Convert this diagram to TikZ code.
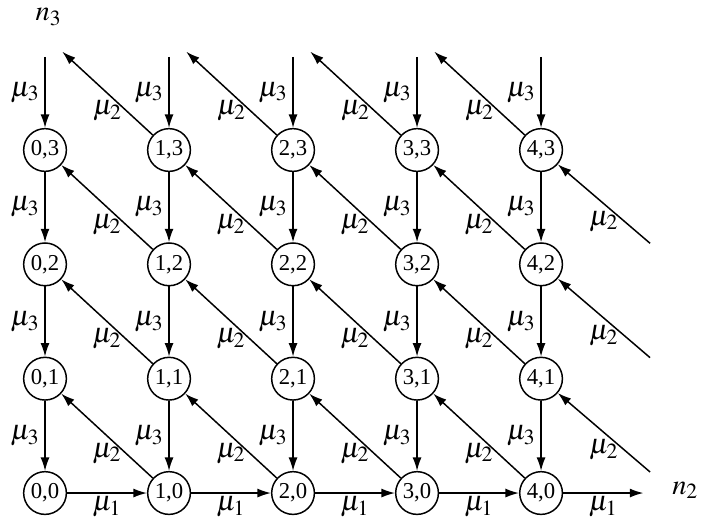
\documentclass[tikz,border=0pt]{standalone}
\usepackage{mathptmx}
\usepackage{fontspec}
\setmainfont{Liberation Serif}
\usetikzlibrary{arrows.meta}

\begin{document}
\begin{tikzpicture}[x = 2.206cm, y = 2.034cm, line width = 0.75pt,
  > = {Latex[length = 2.4mm, width = 1.6mm]},
  state/.style = {draw, circle, minimum size = 0.76cm, inner sep = 0pt, font = \fontsize{11.5}{13}\selectfont},
  rate/.style = {font = \Large}]
\useasboundingbox (-0.363,-0.245) rectangle (5.322,4.312);
% states
\node[state] (s00) at (0,0) {0,0};
\node[state] (s10) at (1,0) {1,0};
\node[state] (s20) at (2,0) {2,0};
\node[state] (s30) at (3,0) {3,0};
\node[state] (s40) at (4,0) {4,0};
\node[state] (s01) at (0,1) {0,1};
\node[state] (s11) at (1,1) {1,1};
\node[state] (s21) at (2,1) {2,1};
\node[state] (s31) at (3,1) {3,1};
\node[state] (s41) at (4,1) {4,1};
\node[state] (s02) at (0,2) {0,2};
\node[state] (s12) at (1,2) {1,2};
\node[state] (s22) at (2,2) {2,2};
\node[state] (s32) at (3,2) {3,2};
\node[state] (s42) at (4,2) {4,2};
\node[state] (s03) at (0,3) {0,3};
\node[state] (s13) at (1,3) {1,3};
\node[state] (s23) at (2,3) {2,3};
\node[state] (s33) at (3,3) {3,3};
\node[state] (s43) at (4,3) {4,3};
% axes
\node[rate] (n3) at (0.03,4.164) {$n_3$};
\node[rate] (n2) at (5.163,0.025) {$n_2$};
% free ends
\coordinate (t0) at (0,3.815);
\coordinate (t1) at (1,3.815);
\coordinate (t2) at (2,3.815);
\coordinate (t3) at (3,3.815);
\coordinate (t4) at (4,3.815);
\coordinate (d1) at (0.139,3.86);
\coordinate (d2) at (1.139,3.86);
\coordinate (d3) at (2.139,3.86);
\coordinate (d4) at (3.139,3.86);
\coordinate (r1) at (4.879,0.184);
\coordinate (r2) at (4.879,1.184);
\coordinate (r3) at (4.879,2.184);
\coordinate (e) at (4.825,0);
% mu_1
\draw[->] (s00) -- node[rate, below = -2pt] {$\mu_1$} (s10);
\draw[->] (s10) -- node[rate, below = -2pt] {$\mu_1$} (s20);
\draw[->] (s20) -- node[rate, below = -2pt] {$\mu_1$} (s30);
\draw[->] (s30) -- node[rate, below = -2pt] {$\mu_1$} (s40);
\draw[->] (s40) -- node[rate, below = -2pt] {$\mu_1$} (e);
% mu_3
\draw[->] (t0) -- node[rate, left = -1pt] {$\mu_3$} (s03);
\draw[->] (t1) -- node[rate, left = -1pt] {$\mu_3$} (s13);
\draw[->] (t2) -- node[rate, left = -1pt] {$\mu_3$} (s23);
\draw[->] (t3) -- node[rate, left = -1pt] {$\mu_3$} (s33);
\draw[->] (t4) -- node[rate, left = -1pt] {$\mu_3$} (s43);
\draw[->] (s03) -- node[rate, left = -1pt] {$\mu_3$} (s02);
\draw[->] (s13) -- node[rate, left = -1pt] {$\mu_3$} (s12);
\draw[->] (s23) -- node[rate, left = -1pt] {$\mu_3$} (s22);
\draw[->] (s33) -- node[rate, left = -1pt] {$\mu_3$} (s32);
\draw[->] (s43) -- node[rate, left = -1pt] {$\mu_3$} (s42);
\draw[->] (s02) -- node[rate, left = -1pt] {$\mu_3$} (s01);
\draw[->] (s12) -- node[rate, left = -1pt] {$\mu_3$} (s11);
\draw[->] (s22) -- node[rate, left = -1pt] {$\mu_3$} (s21);
\draw[->] (s32) -- node[rate, left = -1pt] {$\mu_3$} (s31);
\draw[->] (s42) -- node[rate, left = -1pt] {$\mu_3$} (s41);
\draw[->] (s01) -- node[rate, left = -1pt] {$\mu_3$} (s00);
\draw[->] (s11) -- node[rate, left = -1pt] {$\mu_3$} (s10);
\draw[->] (s21) -- node[rate, left = -1pt] {$\mu_3$} (s20);
\draw[->] (s31) -- node[rate, left = -1pt] {$\mu_3$} (s30);
\draw[->] (s41) -- node[rate, left = -1pt] {$\mu_3$} (s40);
% mu_2
\draw[->] (s10) -- node[rate, below] {$\mu_2$} (s01);
\draw[->] (s20) -- node[rate, below] {$\mu_2$} (s11);
\draw[->] (s30) -- node[rate, below] {$\mu_2$} (s21);
\draw[->] (s40) -- node[rate, below] {$\mu_2$} (s31);
\draw[->] (s11) -- node[rate, below] {$\mu_2$} (s02);
\draw[->] (s21) -- node[rate, below] {$\mu_2$} (s12);
\draw[->] (s31) -- node[rate, below] {$\mu_2$} (s22);
\draw[->] (s41) -- node[rate, below] {$\mu_2$} (s32);
\draw[->] (s12) -- node[rate, below] {$\mu_2$} (s03);
\draw[->] (s22) -- node[rate, below] {$\mu_2$} (s13);
\draw[->] (s32) -- node[rate, below] {$\mu_2$} (s23);
\draw[->] (s42) -- node[rate, below] {$\mu_2$} (s33);
\draw[->] (s13) -- node[rate, below] {$\mu_2$} (d1);
\draw[->] (s23) -- node[rate, below] {$\mu_2$} (d2);
\draw[->] (s33) -- node[rate, below] {$\mu_2$} (d3);
\draw[->] (s43) -- node[rate, below] {$\mu_2$} (d4);
\draw[->] (r1) -- node[rate, below] {$\mu_2$} (s41);
\draw[->] (r2) -- node[rate, below] {$\mu_2$} (s42);
\draw[->] (r3) -- node[rate, below] {$\mu_2$} (s43);
\end{tikzpicture}
\end{document}
